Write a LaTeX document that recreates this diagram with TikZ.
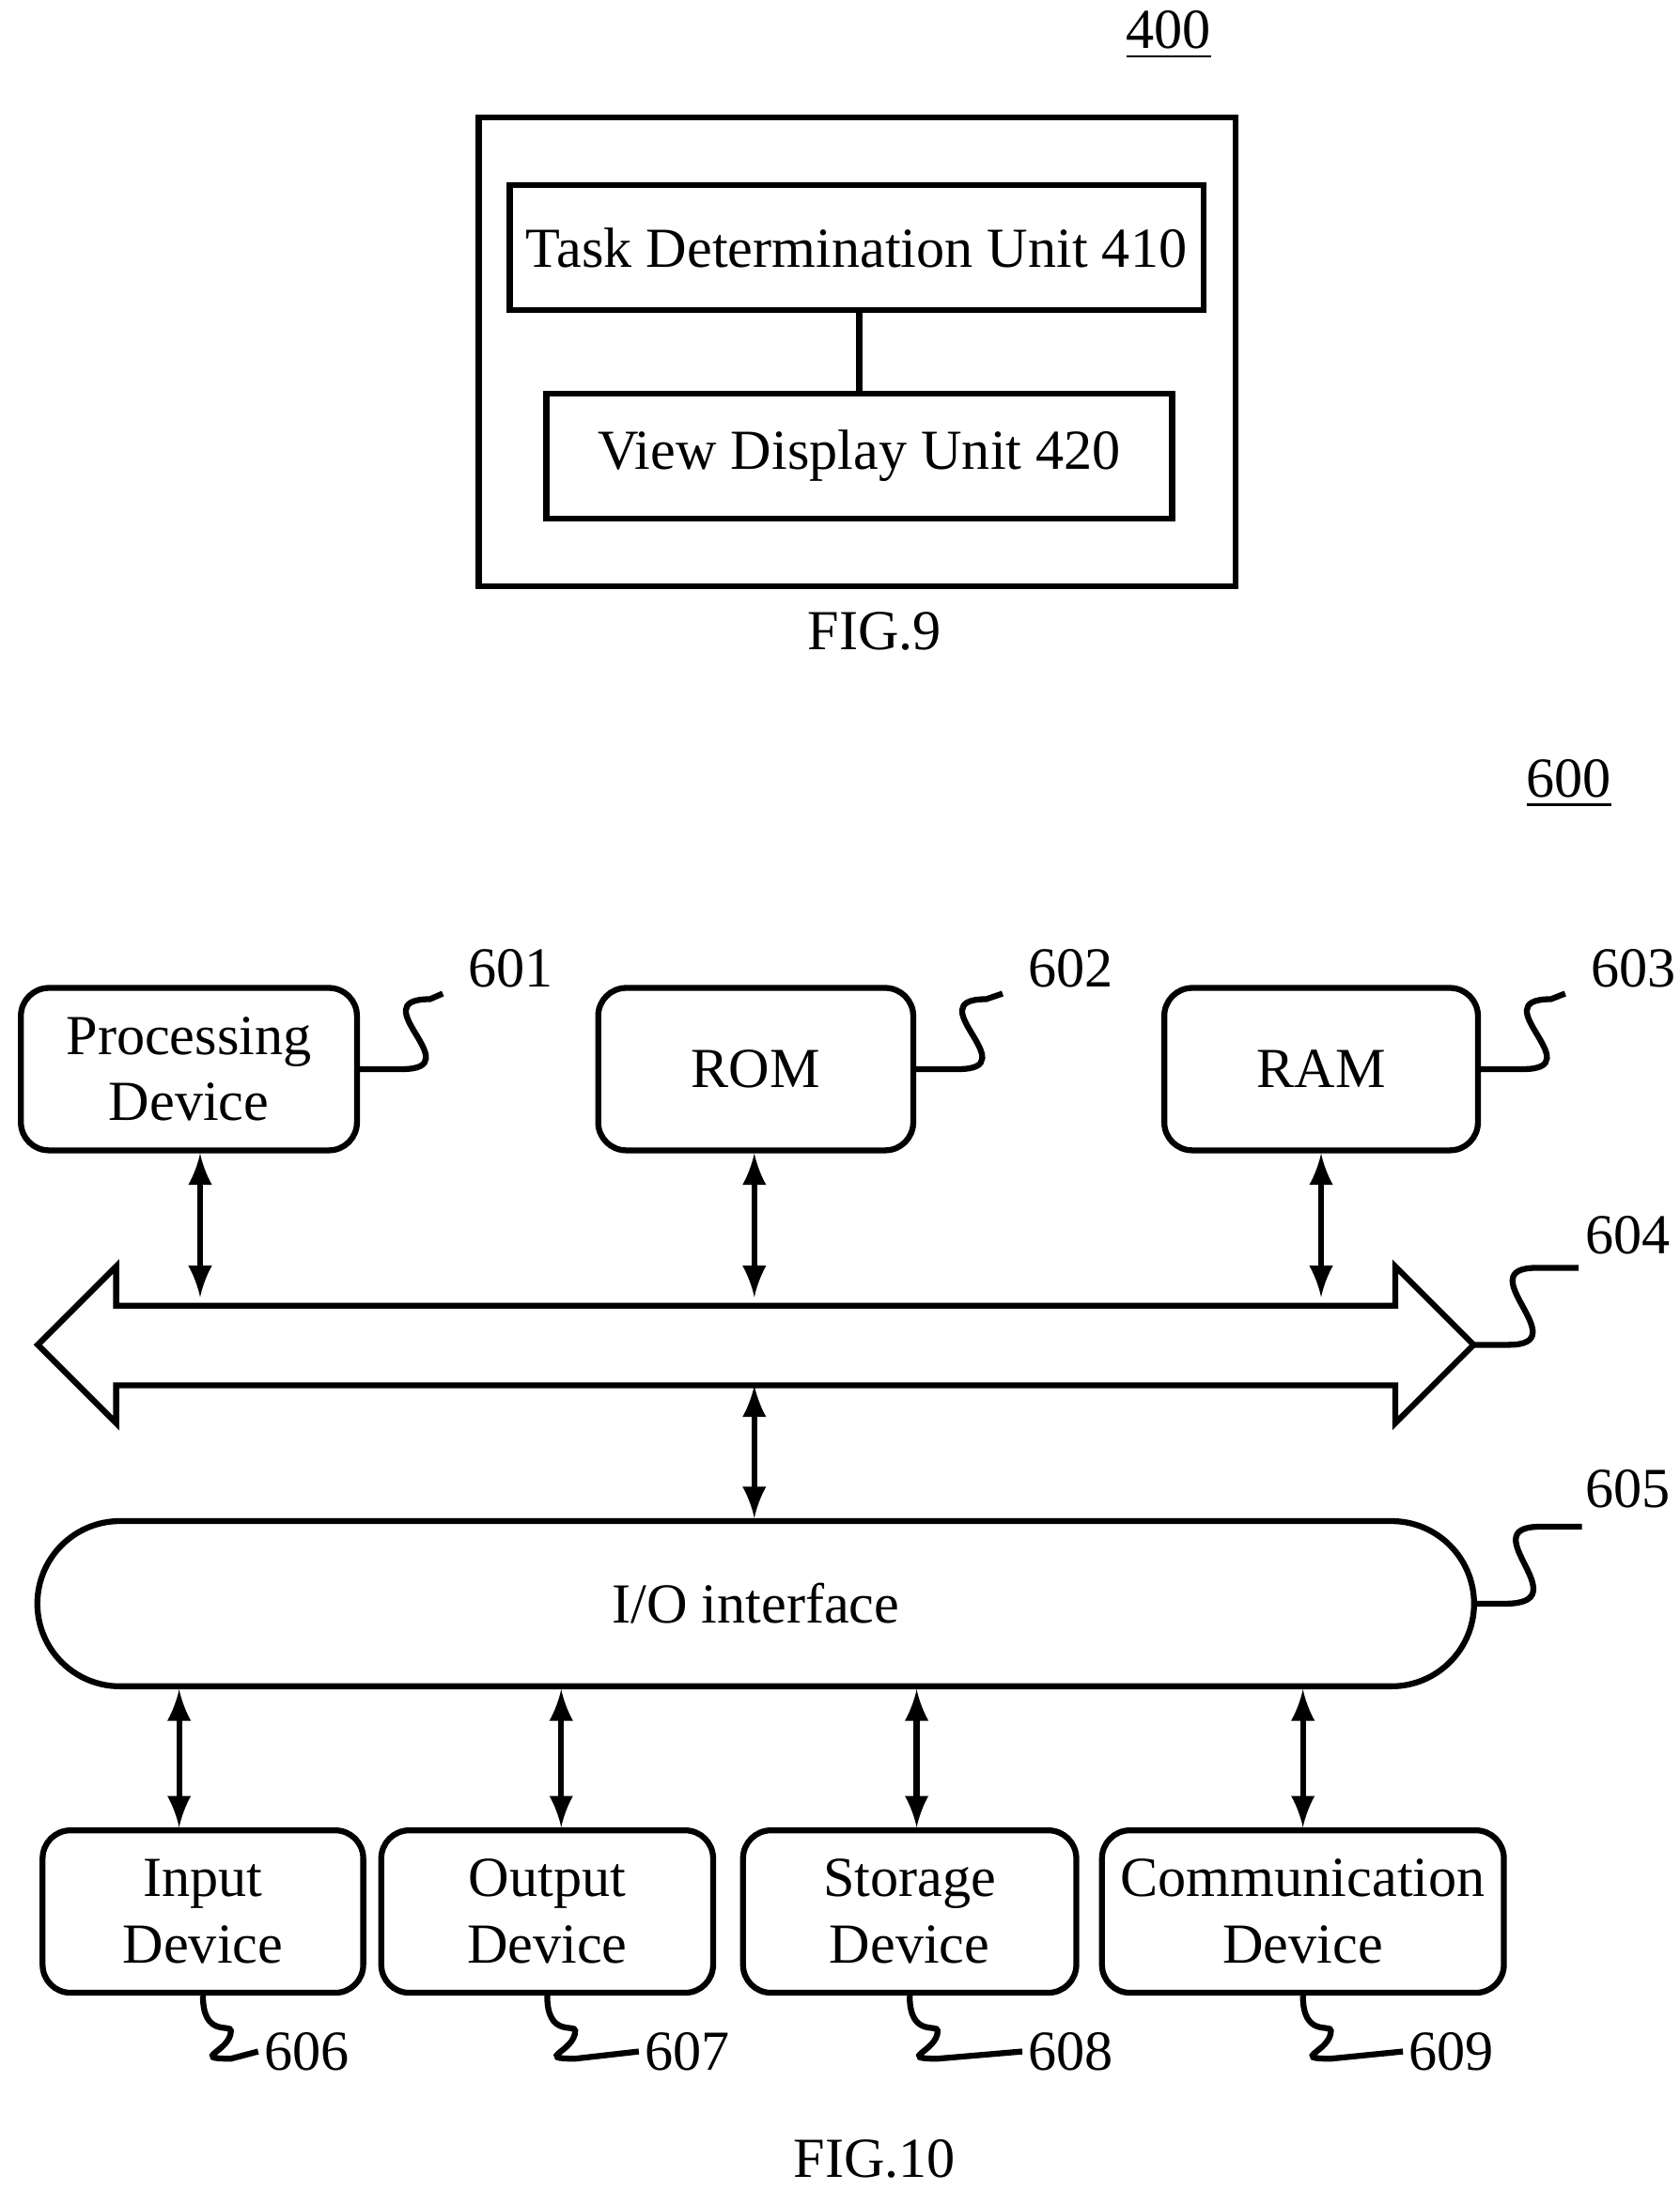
\documentclass[tikz,border=0pt]{standalone}
\usepackage{fontspec}
\setmainfont{Liberation Serif}
\usetikzlibrary{positioning}
\tikzset{
  unit/.style={draw, line width=1.2pt, minimum width=4.47cm, minimum height=0.89cm},
  dev/.style={draw, line width=1.2pt, rounded corners=0.2cm, align=center, minimum height=1.16cm},
  tag/.style={inner sep=1pt},
  wave/.style={line width=1.2pt},
  link/.style={<->, >=latex, line width=1.2pt}
}
\begin{document}
\begin{tikzpicture}[x=0.01cm, y=-0.01cm, font=\fontsize{11.5}{13.5}\selectfont]
		\useasboundingbox (0,0) rectangle (1200,1565);
		
		% FIG.9
		\node (n400) at (835,25) {\underline{400}};
		\draw [line width=1.2pt] (342,84) rectangle (883,419);
		\node [unit] (task) at (612,177) {Task Determination Unit 410};
		\node [unit] (view) at (614,326) {View Display Unit 420};
		\draw [line width=1.2pt] (task.south -| 614,0) -- (view.north -| 614,0);
		\node (fig9) at (625,451) {FIG.9};
		
		% FIG.10
		\node (n600) at (1121,560) {\underline{600}};
		\node [dev, minimum width=2.4cm] (proc) at (135,764) {Processing\\Device};
		\node [dev, minimum width=2.25cm] (rom) at (540,764) {ROM};
		\node [dev, minimum width=2.24cm] (ram) at (944,764) {RAM};
		\node [tag] (t601) at (365,692) {601};
		\node [tag] (t602) at (765,692) {602};
		\node [tag] (t603) at (1167,692) {603};
		\foreach \b/\t in {proc/t601, rom/t602, ram/t603}
			\draw [wave] (\b.east) -- ++(30,0) .. controls +(50,0) and +(-50,0) .. ++(20,-50) -- ([xshift=-4pt]\t.west |- 0,710);
		
		% bus
		\draw [line width=1.2pt, fill=white] (27,961) -- (83,905) -- (83,933) -- (997,933) -- (997,905) -- (1053,961)
			-- (997,1017) -- (997,990) -- (83,990) -- (83,1017) -- cycle;
		\coordinate (busr) at (1053,961);
		\node [tag] (t604) at (1163,883) {604};
		\draw [wave] (busr) -- ++(25,0) .. controls +(50,0) and +(-50,0) .. ++(20,-55) -- ++(30,0);
		\draw [link] (proc.south -| 143,0) -- (143,927);
		\draw [link] (rom.south -| 539,0) -- (539,927);
		\draw [link] (ram.south -| 944,0) -- (944,927);
		
		% I/O
		\node [draw, line width=1.2pt, rounded corners=0.59cm, minimum width=10.26cm, minimum height=1.18cm] (io) at (540,1146) {I/O interface};
		\node [tag] (t605) at (1163,1064) {605};
		\draw [wave] (io.east) -- ++(20,0) .. controls +(55,0) and +(-50,0) .. ++(25,-55) -- ++(30,0);
		\draw [link] (539,990) -- (io.north -| 539,0);
		
		\node [dev, minimum width=2.29cm] (inp) at (145,1366) {Input\\Device};
		\node [dev, minimum width=2.37cm] (out) at (391,1366) {Output\\Device};
		\node [dev, minimum width=2.38cm] (sto) at (650,1366) {Storage\\Device};
		\node [dev, minimum width=2.87cm] (com) at (931,1366) {Communication\\Device};
		\foreach \b/\x in {inp/128, out/401, sto/655, com/931}
			\draw [link] (io.south -| \x,0) -- (\b.north -| \x,0);
		\node [tag] (t606) at (219,1466) {606};
		\node [tag] (t607) at (491,1466) {607};
		\node [tag] (t608) at (765,1466) {608};
		\node [tag] (t609) at (1037,1466) {609};
		\foreach \b/\t in {inp/t606, out/t607, sto/t608, com/t609}
			\draw [wave] (\b.south) .. controls +(0,30) and +(0,-5) .. ++(20,25) .. controls +(0,15) and +(-30,0) .. ++(0,20) -- (\t.west);
		\node (fig10) at (625,1543) {FIG.10};
	\end{tikzpicture}
\end{document}
